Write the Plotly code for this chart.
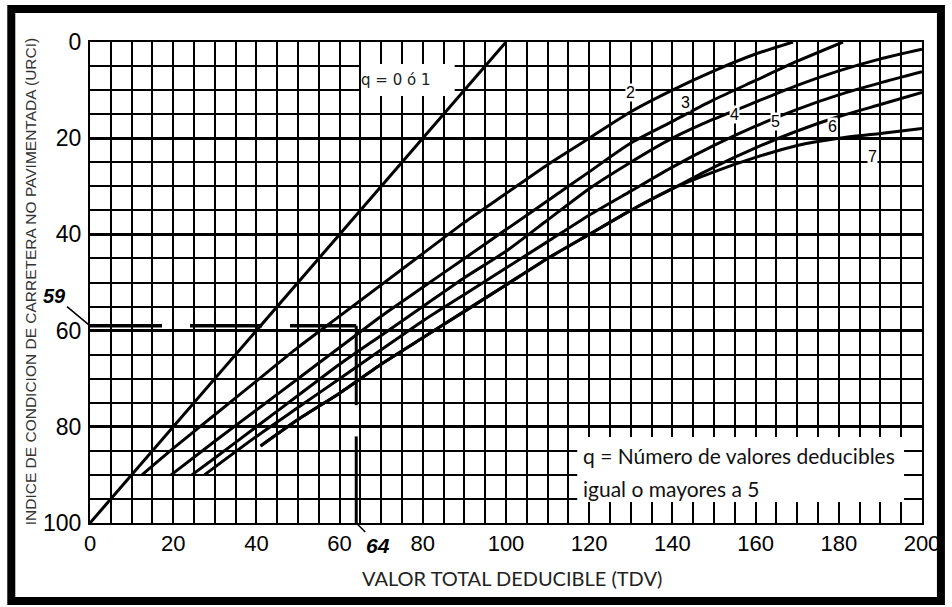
import plotly.graph_objects as go

# --- Curve data: URCI versus total deducible value (TDV) for each q ---
tdv_q1 = [0, 100]
urci_q1 = [100, 0]

tdv_q2 = [12.5, 20, 30, 40, 50, 60, 70, 80, 90, 100, 110, 120, 130, 140, 150, 160, 169]
urci_q2 = [90, 84.5, 77.5, 70.5, 63.5, 57, 50.5, 44, 37.5, 31.5, 25.5, 20, 14.5, 10, 6, 2.5, 0]

tdv_q3 = [19.5, 30, 40, 50, 60, 70, 80, 90, 100, 110, 120, 130, 140, 150, 160, 170, 181]
urci_q3 = [90, 83, 76.5, 70, 63.5, 57, 51, 45, 39, 33, 27, 21, 16.5, 12, 8, 4, 0]

tdv_q4 = [24.5, 30, 40, 50, 60, 70, 80, 90, 100, 110, 120, 130, 140, 150, 160, 170, 180, 190, 200]
urci_q4 = [90, 86.5, 80, 73.5, 67, 61, 55, 49, 43.5, 37, 30.5, 25, 20, 16, 12.5, 9, 6, 3.5, 1.5]

tdv_q5 = [27.5, 40, 50, 60, 70, 80, 90, 100, 110, 120, 130, 140, 150, 160, 170, 180, 190, 200]
urci_q5 = [90, 82, 76, 70, 64, 58, 52.5, 47, 41.5, 36, 31, 26, 21.5, 17.5, 14, 11, 8.5, 6.2]

tdv_q6 = [41, 50, 60, 70, 80, 90, 100, 110, 120, 130, 140, 150, 160, 170, 180, 190, 200]
urci_q6 = [84, 78.5, 73, 67, 61.5, 56, 50.5, 45, 40, 35, 30.5, 26, 22, 18.5, 15.5, 13, 10.5]

tdv_q7 = [41, 50, 60, 70, 80, 90, 100, 110, 120, 130, 140, 150, 160, 170, 180, 190, 200]
urci_q7 = [84, 78.5, 73, 67, 61.5, 56, 50.5, 45, 40, 35, 30.5, 27, 24, 21.5, 20, 19, 18]

# Worked example: TDV = 64 gives URCI = 59
example_tdv = 64
example_urci = 59

x_ticks = [0, 20, 40, 60, 80, 100, 120, 140, 160, 180, 200]
y_ticks = [0, 20, 40, 60, 80, 100]

curve_labels = ["2", "3", "4", "5", "6", "7"]
label_tdv = [130, 143.2, 155, 164.8, 178.4, 188]
label_urci = [10.5, 12.6, 15.1, 16.6, 17.6, 23.8]

fig = go.Figure()

line_style = dict(color="black", width=3)
for xs, ys in [(tdv_q1, urci_q1), (tdv_q2, urci_q2), (tdv_q3, urci_q3),
               (tdv_q4, urci_q4), (tdv_q5, urci_q5), (tdv_q6, urci_q6),
               (tdv_q7, urci_q7)]:
    fig.add_trace(go.Scatter(x=xs, y=ys, mode="lines",
                             line=dict(shape="spline", smoothing=0.6, **line_style),
                             hoverinfo="skip", showlegend=False))

# Example reading: horizontal dashed guide and vertical guide
fig.add_trace(go.Scatter(x=[0, example_tdv], y=[example_urci, example_urci], mode="lines",
                         line=dict(color="black", width=3.5, dash="72px,28px"),
                         hoverinfo="skip", showlegend=False))
fig.add_trace(go.Scatter(x=[example_tdv, example_tdv, None, example_tdv, example_tdv],
                         y=[example_urci, 75.5, None, 82, 100], mode="lines",
                         line=dict(color="black", width=3),
                         hoverinfo="skip", showlegend=False))

y_tick_font = dict(family="Liberation Sans, Arial, sans-serif", size=23, color="black")
x_tick_font = dict(family="Liberation Sans, Arial, sans-serif", size=22, color="black")

fig.update_xaxes(range=[0, 200], tickvals=x_ticks, ticktext=[str(v) for v in x_ticks],
                 showgrid=True, gridcolor="black", gridwidth=2,
                 minor=dict(dtick=5, showgrid=True, gridcolor="black", gridwidth=2),
                 showline=True, linecolor="black", linewidth=2, mirror=True,
                 zeroline=False, ticks="", tickfont=x_tick_font, ticklabelstandoff=0)
fig.update_yaxes(range=[100, 0], tickvals=y_ticks, ticktext=[str(v) for v in y_ticks],
                 showgrid=True, gridcolor="black", gridwidth=3,
                 minor=dict(dtick=5, showgrid=True, gridcolor="black", gridwidth=2),
                 showline=True, linecolor="black", linewidth=2, mirror=True,
                 zeroline=False, ticks="", tickfont=y_tick_font, ticklabelstandoff=2)

W, H = 952, 607
L, R, T, B = 90, 27, 42, 84
pw, ph = W - L - R, H - T - B


def px_x(p):
    return (p - L) / pw


def px_y(p):
    return 1 - (p - T) / ph


shapes = [
    # outer black frame
    dict(type="rect", xref="paper", yref="paper", x0=px_x(11), x1=px_x(944), y0=px_y(9), y1=px_y(601),
         line=dict(color="black", width=8), fillcolor="rgba(0,0,0,0)", layer="above"),
    # white panels behind the notes
    dict(type="rect", xref="paper", yref="paper", x0=px_x(579), x1=px_x(907), y0=px_y(437), y1=px_y(502),
         line=dict(width=0), fillcolor="white", layer="above"),
    dict(type="rect", xref="paper", yref="paper", x0=px_x(362), x1=px_x(456), y0=px_y(64), y1=px_y(96),
         line=dict(width=0), fillcolor="white", layer="above"),
]

note_font = dict(family="Lato, Open Sans, sans-serif", size=21, color="#111")
annotations = [
    dict(text="INDICE DE CONDICION DE CARRETERA NO PAVIMENTADA (URCI)", xref="paper", yref="paper",
         x=px_x(30), y=px_y(282), xanchor="center", yanchor="middle", textangle=-90, showarrow=False,
         font=dict(family="Liberation Sans, Arial, sans-serif", size=15.5, color="#333")),
    dict(text="VALOR TOTAL DEDUCIBLE (TDV)", xref="paper", yref="paper",
         x=px_x(514), y=px_y(578), xanchor="center", yanchor="middle", showarrow=False,
         font=dict(family="Lato, Open Sans, sans-serif", size=20, color="#222")),
    dict(text="q = Número de valores deducibles", xref="paper", yref="paper",
         x=px_x(583), y=px_y(455), xanchor="left", yanchor="middle", showarrow=False, font=note_font),
    dict(text="igual o mayores a 5", xref="paper", yref="paper",
         x=px_x(583), y=px_y(488), xanchor="left", yanchor="middle", showarrow=False, font=note_font),
    dict(text="q = 0 ó 1", xref="paper", yref="paper", x=px_x(397), y=px_y(80),
         xanchor="center", yanchor="middle", showarrow=False,
         font=dict(family="DejaVu Sans, sans-serif", size=15, color="#222")),
    # example value callouts
    dict(text="<b><i>59</i></b>", x=0, y=example_urci, xref="x", yref="y", ax=-36, ay=-30,
         showarrow=True, arrowhead=0, arrowwidth=1.5, arrowcolor="black", standoff=1,
         font=dict(family="Liberation Sans, Arial, sans-serif", size=20, color="black")),
    dict(text="<b><i>64</i></b>", x=example_tdv, y=100, xref="x", yref="y", ax=22, ay=22,
         showarrow=True, arrowhead=0, arrowwidth=1.5, arrowcolor="black", standoff=0,
         font=dict(family="Liberation Sans, Arial, sans-serif", size=21, color="black")),
]
for t, xv, yv in zip(curve_labels, label_tdv, label_urci):
    annotations.append(dict(text=t, x=xv, y=yv, xref="x", yref="y", showarrow=False,
                            bgcolor="white", borderpad=0,
                            font=dict(family="Liberation Sans, Arial, sans-serif", size=16, color="black")))

fig.update_layout(width=W, height=H, margin=dict(l=L, r=R, t=T, b=B),
                  paper_bgcolor="white", plot_bgcolor="white",
                  shapes=shapes, annotations=annotations, showlegend=False)

fig.write_html("out.html")
